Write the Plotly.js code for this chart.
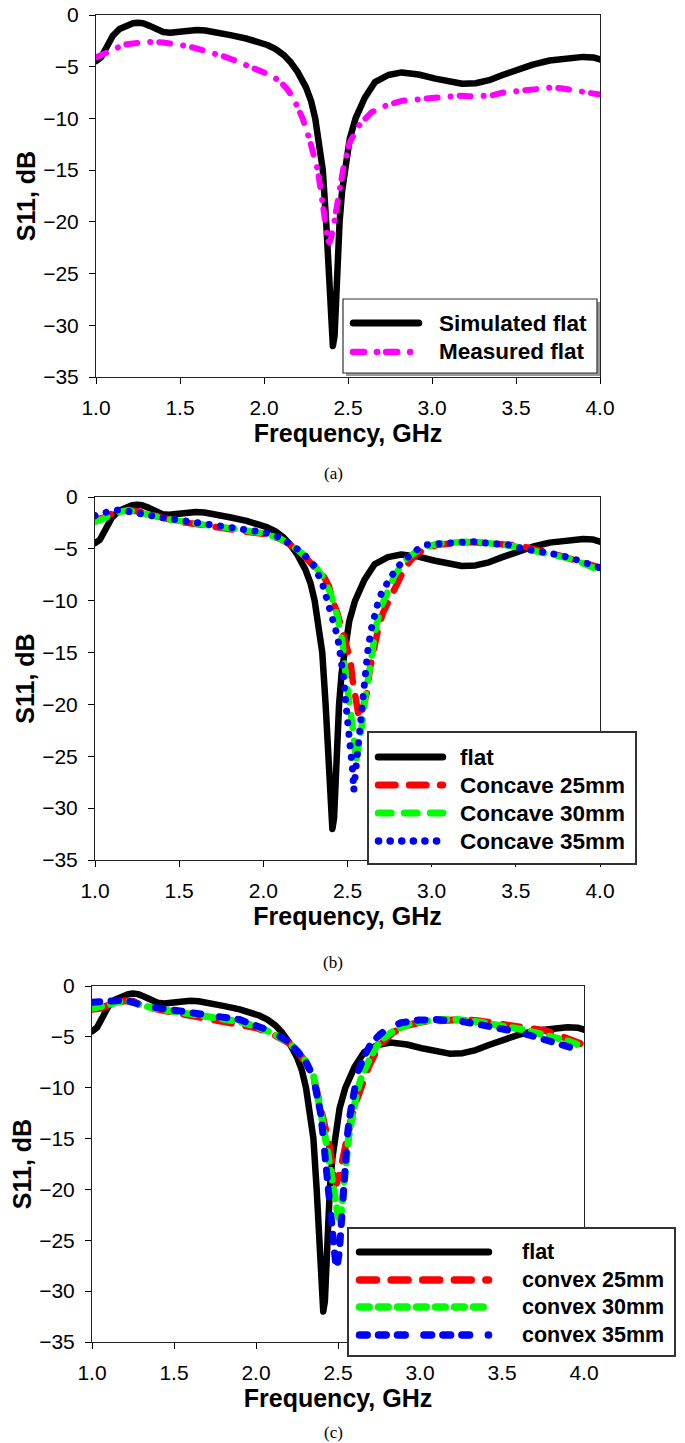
<!DOCTYPE html>
<html><head><meta charset="utf-8">
<script src="https://cdn.plot.ly/plotly-3.0.1.min.js"></script>
<style>
html,body{margin:0;padding:0;background:#fff;}
#chart{width:685px;height:1443px;}
.scatterlayer .js-line{stroke-linecap:round;stroke-linejoin:round;}
.shapelayer path{stroke-linecap:round;}
</style></head><body><div id="chart"></div><script>
// ---------- data ----------
const xTickVals = [1.0, 1.5, 2.0, 2.5, 3.0, 3.5, 4.0];
const yTickVals = [0, -5, -10, -15, -20, -25, -30, -35];
const xTitle = 'Frequency, GHz';
const yTitle = 'S11, dB';
const captions = ['(a)', '(b)', '(c)'];

const namesA = ['Simulated flat', 'Measured flat'];
const namesB = ['flat', 'Concave 25mm', 'Concave 30mm', 'Concave 35mm'];
const namesC = ['flat', 'convex 25mm', 'convex 30mm', 'convex 35mm'];

const freqFlat = [1.00,1.03,1.05,1.08,1.10,1.14,1.18,1.22,1.25,1.28,1.32,1.36,1.40,1.44,1.48,1.52,1.56,1.60,1.65,1.70,1.80,1.90,1.96,2.02,2.07,2.12,2.16,2.20,2.25,2.28,2.305,2.33,2.35,2.37,2.383,2.395,2.41,2.42,2.435,2.45,2.465,2.48,2.51,2.545,2.60,2.66,2.74,2.82,2.92,3.02,3.10,3.18,3.26,3.34,3.42,3.50,3.60,3.70,3.80,3.90,3.96,4.00];
const s11Flat = [-4.45,-4.1,-3.5,-2.6,-2.0,-1.35,-1.0,-0.8,-0.74,-0.8,-1.05,-1.4,-1.65,-1.72,-1.65,-1.55,-1.48,-1.45,-1.5,-1.6,-1.95,-2.3,-2.55,-2.9,-3.3,-3.9,-4.6,-5.5,-7.0,-8.3,-10.0,-12.8,-15.0,-20.0,-25.0,-29.0,-32.0,-31.0,-25.0,-20.0,-17.0,-15.0,-12.0,-10.0,-8.0,-6.5,-5.8,-5.55,-5.75,-6.15,-6.45,-6.65,-6.6,-6.3,-5.8,-5.3,-4.8,-4.4,-4.15,-4.05,-4.1,-4.3];

const freqMeas = [1.00,1.04,1.08,1.12,1.17,1.22,1.28,1.34,1.40,1.46,1.52,1.58,1.64,1.70,1.76,1.82,1.88,1.94,2.00,2.05,2.10,2.14,2.18,2.23,2.27,2.30,2.32,2.34,2.36,2.38,2.39,2.40,2.416,2.44,2.47,2.51,2.57,2.64,2.72,2.82,2.92,3.03,3.10,3.16,3.22,3.29,3.35,3.42,3.50,3.58,3.65,3.72,3.78,3.84,3.90,3.95,4.00];
const s11Meas = [-4.1,-3.8,-3.45,-3.1,-2.85,-2.75,-2.65,-2.6,-2.65,-2.75,-2.95,-3.15,-3.4,-3.7,-4.0,-4.35,-4.75,-5.15,-5.5,-5.9,-6.5,-7.2,-8.2,-10.0,-12.0,-13.6,-15.0,-17.2,-20.0,-21.8,-22.0,-21.5,-20.2,-17.8,-15.0,-12.3,-10.6,-9.4,-8.8,-8.3,-8.15,-7.9,-7.8,-7.8,-7.85,-7.9,-7.8,-7.5,-7.4,-7.3,-7.1,-7.0,-7.1,-7.3,-7.4,-7.55,-7.7];

const freqCc25 = [1.00,1.05,1.10,1.15,1.20,1.26,1.32,1.40,1.50,1.60,1.70,1.80,1.90,2.00,2.10,2.15,2.20,2.25,2.30,2.36,2.39,2.41,2.44,2.465,2.49,2.517,2.53,2.548,2.563,2.575,2.59,2.615,2.633,2.66,2.685,2.71,2.75,2.79,2.83,2.87,2.905,2.96,3.035,3.10,3.165,3.23,3.29,3.36,3.42,3.49,3.55,3.62,3.68,3.75,3.81,3.87,3.92,3.96,4.00];
const s11Cc25 = [-2.2,-2.0,-1.6,-1.35,-1.25,-1.4,-1.65,-2.0,-2.4,-2.6,-2.9,-3.1,-3.35,-3.55,-4.05,-4.5,-5.1,-5.8,-6.7,-7.7,-8.6,-9.9,-11.2,-12.5,-13.8,-15.7,-17.6,-19.5,-20.8,-21.3,-20.5,-18.9,-16.6,-14.4,-12.5,-11.2,-9.9,-8.3,-7.2,-6.2,-5.6,-5.0,-4.6,-4.5,-4.4,-4.35,-4.4,-4.45,-4.5,-4.65,-4.8,-5.05,-5.3,-5.6,-5.9,-6.2,-6.4,-6.6,-6.8];

const freqCc30 = [1.00,1.05,1.10,1.15,1.20,1.26,1.32,1.40,1.50,1.60,1.70,1.80,1.90,2.00,2.10,2.15,2.20,2.25,2.30,2.35,2.40,2.44,2.47,2.49,2.517,2.537,2.55,2.568,2.59,2.607,2.625,2.646,2.67,2.70,2.737,2.776,2.815,2.855,2.905,2.97,3.035,3.10,3.165,3.23,3.29,3.36,3.42,3.49,3.55,3.62,3.68,3.75,3.81,3.87,3.92,3.96,4.00];
const s11Cc30 = [-2.4,-2.1,-1.65,-1.4,-1.3,-1.45,-1.7,-2.05,-2.35,-2.55,-2.8,-3.0,-3.25,-3.5,-4.0,-4.45,-5.05,-5.7,-6.5,-7.6,-9.3,-11.5,-14.0,-17.3,-20.2,-23.0,-25.6,-24.0,-21.5,-19.2,-17.0,-14.7,-12.5,-10.6,-9.0,-7.7,-6.7,-5.9,-5.3,-4.8,-4.5,-4.4,-4.3,-4.3,-4.35,-4.45,-4.55,-4.75,-5.0,-5.2,-5.4,-5.65,-5.9,-6.2,-6.5,-6.8,-7.1];

const freqCc35 = [1.00,1.05,1.10,1.15,1.20,1.26,1.32,1.40,1.50,1.60,1.70,1.80,1.90,2.00,2.10,2.15,2.20,2.25,2.30,2.35,2.40,2.413,2.426,2.44,2.452,2.465,2.478,2.49,2.504,2.517,2.53,2.537,2.548,2.556,2.568,2.58,2.594,2.607,2.62,2.64,2.66,2.685,2.71,2.75,2.79,2.83,2.87,2.92,2.97,3.035,3.14,3.24,3.35,3.45,3.55,3.66,3.76,3.87,3.97,4.00];
const s11Cc35 = [-1.8,-1.55,-1.3,-1.25,-1.35,-1.55,-1.75,-2.0,-2.25,-2.45,-2.65,-2.85,-3.1,-3.4,-3.9,-4.4,-5.0,-5.7,-6.6,-8.3,-10.9,-11.5,-12.5,-13.4,-14.6,-15.8,-17.6,-19.9,-21.9,-24.0,-26.3,-28.3,-26.6,-24.7,-22.1,-20.2,-18.7,-17.0,-14.9,-12.8,-11.5,-9.9,-9.0,-7.8,-6.9,-6.2,-5.6,-5.0,-4.6,-4.5,-4.3,-4.3,-4.5,-4.6,-5.0,-5.3,-5.6,-6.1,-6.7,-6.85];

const freqCv25 = [1.00,1.05,1.10,1.15,1.20,1.25,1.30,1.40,1.50,1.60,1.70,1.80,1.90,2.00,2.10,2.20,2.25,2.30,2.35,2.407,2.447,2.473,2.49,2.508,2.527,2.553,2.58,2.607,2.647,2.687,2.727,2.78,2.833,2.913,3.02,3.126,3.26,3.366,3.50,3.63,3.766,3.87,3.94,4.00];
const s11Cv25 = [-2.3,-2.2,-1.9,-1.6,-1.45,-1.5,-1.9,-2.3,-2.6,-2.9,-3.1,-3.45,-3.7,-4.1,-4.7,-5.6,-6.4,-7.4,-8.9,-12.8,-15.7,-18.4,-19.4,-18.7,-17.0,-14.8,-13.1,-11.5,-9.5,-7.9,-6.6,-5.4,-4.6,-3.9,-3.5,-3.4,-3.3,-3.45,-3.8,-4.1,-4.4,-5.0,-5.4,-5.8];

const freqCv30 = [1.00,1.05,1.10,1.15,1.20,1.25,1.30,1.40,1.50,1.60,1.70,1.80,1.90,2.00,2.10,2.20,2.25,2.30,2.35,2.407,2.44,2.466,2.487,2.508,2.519,2.532,2.545,2.566,2.588,2.615,2.647,2.687,2.727,2.78,2.847,2.926,3.02,3.126,3.23,3.366,3.50,3.63,3.766,3.90,4.00];
const s11Cv30 = [-2.2,-2.1,-1.85,-1.6,-1.5,-1.6,-1.9,-2.25,-2.5,-2.75,-2.95,-3.25,-3.5,-4.0,-4.6,-5.6,-6.3,-7.3,-8.8,-13.4,-16.4,-19.0,-21.0,-23.3,-22.3,-19.7,-17.4,-14.8,-12.8,-10.5,-8.7,-7.2,-6.1,-5.1,-4.3,-3.8,-3.45,-3.3,-3.3,-3.55,-3.9,-4.3,-4.85,-5.4,-6.0];

const freqCv35 = [1.00,1.05,1.10,1.15,1.20,1.25,1.30,1.40,1.50,1.60,1.70,1.80,1.90,2.00,2.10,2.20,2.25,2.30,2.35,2.394,2.407,2.42,2.433,2.447,2.46,2.473,2.487,2.49,2.508,2.519,2.527,2.535,2.545,2.559,2.575,2.593,2.62,2.66,2.70,2.753,2.807,2.886,2.993,3.10,3.18,3.26,3.366,3.446,3.526,3.63,3.74,3.846,3.95];
const s11Cv35 = [-1.6,-1.55,-1.45,-1.3,-1.4,-1.6,-1.85,-2.15,-2.35,-2.65,-2.85,-3.05,-3.3,-3.9,-4.5,-5.5,-6.3,-7.3,-9.0,-12.5,-14.4,-16.4,-18.4,-20.3,-22.3,-24.6,-26.9,-28.0,-26.2,-23.6,-21.0,-18.7,-16.7,-14.4,-12.5,-10.5,-8.5,-6.9,-5.7,-4.8,-4.1,-3.6,-3.35,-3.3,-3.35,-3.5,-3.8,-4.0,-4.3,-4.65,-5.15,-5.6,-6.2];

// ---------- styles ----------
const W = 685, H = 1443;
const FONT = 'Liberation Sans, Arial, sans-serif';
const SERIF = 'Liberation Serif, Times New Roman, serif';
const sty = {
  flat: {color: '#000000', width: 6.5, dash: 'solid'},
  meas: {color: '#FF00FF', width: 6, dash: '11px,13px,0.1px,9px'},
  cc25: {color: '#FF0000', width: 6.5, dash: '17px,14px'},
  cc30: {color: '#00FF00', width: 6.5, dash: '13px,13px'},
  cc35: {color: '#0000FF', width: 7, dash: '0.1px,11.5px'},
  cv25: {color: '#FF0000', width: 7, dash: '17px,14.6px'},
  cv30: {color: '#00FF00', width: 7, dash: '9.7px,9.3px'},
  cv35: {color: '#0000FF', width: 7, dash: '7.7px,11.3px,7.7px,11.3px,7.7px,18.7px'}
};

// panel frames in pixels: [left, right], [top, bottom]
const panels = [
  {xpx: [96, 600], ypx: [15, 377], capY: 473,
   series: [[freqFlat, s11Flat, sty.flat], [freqMeas, s11Meas, sty.meas]],
   legend: {box: [343, 299, 597, 373], shadow: true, border: 1.2, rows: [323, 352], samp: [350, 422], textX: 437, size: 22.5, names: namesA}},
  {xpx: [95, 600], ypx: [497, 860], capY: 962,
   series: [[freqFlat, s11Flat, sty.flat], [freqCc25, s11Cc25, sty.cc25], [freqCc30, s11Cc30, sty.cc30], [freqCc35, s11Cc35, sty.cc35]],
   legend: {box: [368, 732, 636, 864], shadow: false, border: 2, rows: [757, 785, 813, 841], samp: [375, 446], textX: 458, size: 22.5, names: namesB}},
  {xpx: [92, 584], ypx: [986, 1342], capY: 1432,
   series: [[freqFlat, s11Flat, sty.flat], [freqCv25, s11Cv25, sty.cv25], [freqCv30, s11Cv30, sty.cv30], [freqCv35, s11Cv35, sty.cv35]],
   legend: {box: [348, 1228, 675, 1356], shadow: false, border: 2, rows: [1252, 1280, 1307, 1335], samp: [356, 492], textX: 520, size: 21.5, names: namesC}}
];

const PX = x => x / W;
const PY = y => 1 - y / H;

const traces = [];
const layout = {
  width: W, height: H,
  margin: {l: 0, r: 0, t: 0, b: 0},
  paper_bgcolor: '#fff', plot_bgcolor: '#fff',
  showlegend: false,
  shapes: [], annotations: []
};

panels.forEach((p, i) => {
  const n = i === 0 ? '' : String(i + 1);
  const xa = 'xaxis' + n, ya = 'yaxis' + n;
  layout[xa] = {
    domain: [PX(p.xpx[0]), PX(p.xpx[1])], anchor: 'y' + n,
    range: [1, 4], tickvals: xTickVals, tickformat: '.1f',
    ticks: 'outside', ticklen: 6, tickwidth: 1, tickcolor: '#000',
    ticklabelstandoff: 6,
    showline: true, linecolor: '#222', linewidth: 1, mirror: true,
    showgrid: false, zeroline: false, fixedrange: true,
    tickfont: {family: FONT, size: 21, color: '#000'},
    title: {text: xTitle, standoff: 6, font: {family: FONT, size: 25, color: '#000', weight: 'bold'}}
  };
  layout[ya] = {
    domain: [PY(p.ypx[1]), PY(p.ypx[0])], anchor: 'x' + n,
    range: [-35, 0], tickvals: yTickVals,
    ticks: 'outside', ticklen: 6, tickwidth: 1, tickcolor: '#000',
    ticklabelstandoff: 6,
    showline: true, linecolor: '#222', linewidth: 1, mirror: true,
    showgrid: false, zeroline: false, fixedrange: true,
    tickfont: {family: FONT, size: 21, color: '#000'},
    title: {text: yTitle, standoff: 0, font: {family: FONT, size: 25, color: '#000', weight: 'bold'}}
  };
  p.series.forEach(s => {
    traces.push({type: 'scatter', mode: 'lines', x: s[0], y: s[1],
      xaxis: 'x' + n, yaxis: 'y' + n, hoverinfo: 'skip',
      line: {color: s[2].color, width: s[2].width, dash: s[2].dash}});
  });
  // caption
  layout.annotations.push({xref: 'paper', yref: 'paper', x: PX(333), y: PY(p.capY),
    xanchor: 'center', yanchor: 'middle', showarrow: false, text: captions[i],
    font: {family: SERIF, size: 17, color: '#000'}});
  // legend box
  const L = p.legend, b = L.box;
  if (L.shadow) {
    layout.shapes.push({type: 'rect', xref: 'paper', yref: 'paper', layer: 'above',
      x0: PX(b[0] + 3), x1: PX(b[2] + 3), y0: PY(b[3] + 3), y1: PY(b[1] + 3),
      fillcolor: '#9a9a9a', line: {width: 0}});
  }
  layout.shapes.push({type: 'rect', xref: 'paper', yref: 'paper', layer: 'above',
    x0: PX(b[0]), x1: PX(b[2]), y0: PY(b[3]), y1: PY(b[1]),
    fillcolor: '#ffffff', line: {color: '#333', width: L.border}});
  L.rows.forEach((ry, k) => {
    const st = p.series[k][2];
    const hw = st.width / 2;
    layout.shapes.push({type: 'line', xref: 'paper', yref: 'paper', layer: 'above',
      x0: PX(L.samp[0] + hw), x1: PX(L.samp[1] - hw), y0: PY(ry), y1: PY(ry),
      line: {color: st.color, width: st.width + 0.5, dash: st.dash}});
    layout.annotations.push({xref: 'paper', yref: 'paper', x: PX(L.textX), y: PY(ry),
      xanchor: 'left', yanchor: 'middle', showarrow: false, text: L.names[k],
      font: {family: FONT, size: L.size, color: '#000', weight: 'bold'}});
  });
});

Plotly.newPlot('chart', traces, layout, {staticPlot: true, displayModeBar: false});
</script></body></html>
